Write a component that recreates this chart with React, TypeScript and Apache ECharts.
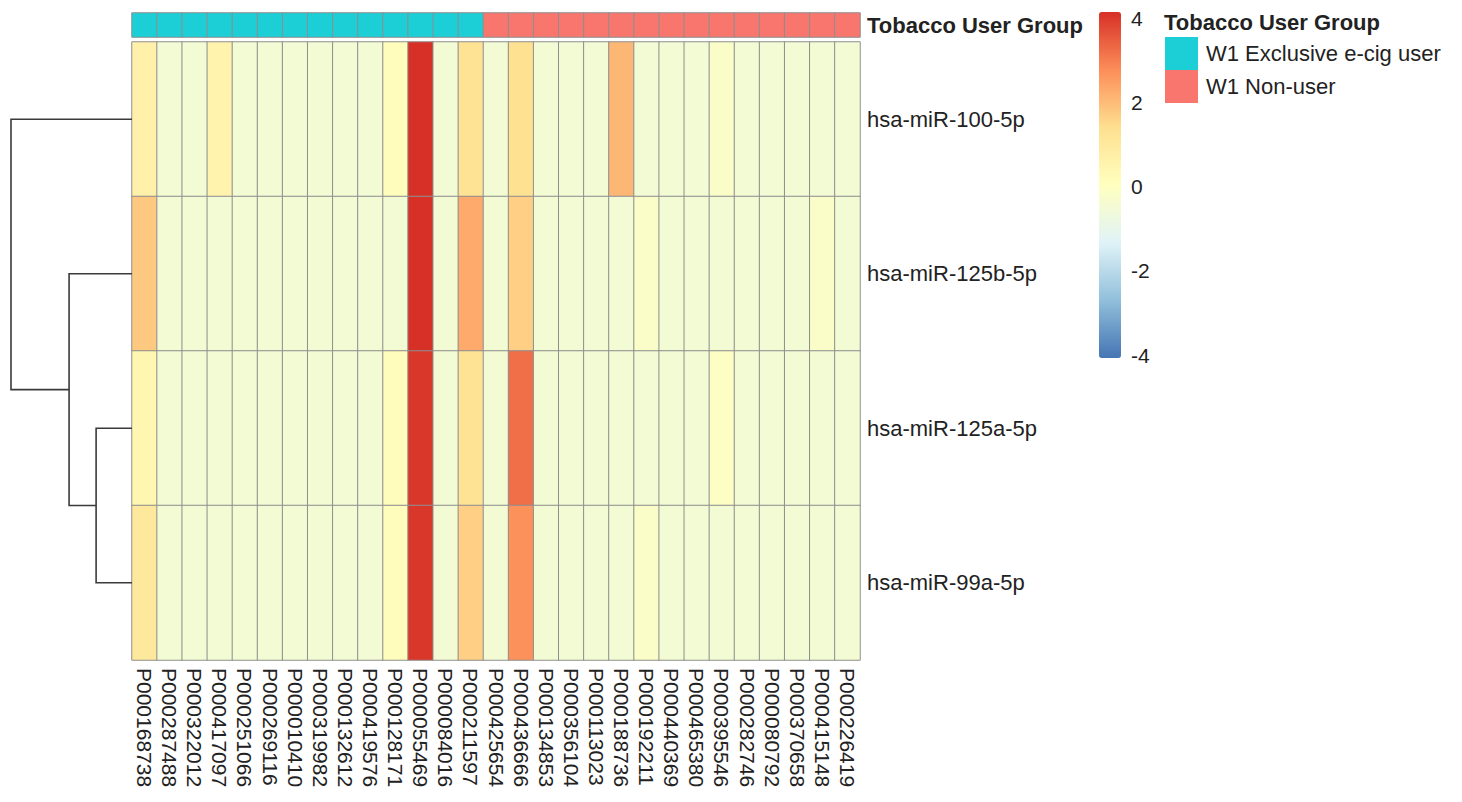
import React, { useEffect, useRef } from "react";
import * as echarts from "echarts";

// Samples (columns) in clustered display order
const samples = [
  "P000168738", "P000287488", "P000322012", "P000417097", "P000251066",
  "P000269116", "P000010410", "P000319982", "P000132612", "P000419576",
  "P000128171", "P000055469", "P000084016", "P000211597", "P000425654",
  "P000436666", "P000134853", "P000356104", "P000113023", "P000188736",
  "P000192211", "P000440369", "P000465380", "P000395546", "P000282746",
  "P000080792", "P000370658", "P000415148", "P000226419",
];

// Group annotation per sample (index into groupNames)
const groupNames = ["W1 Exclusive e-cig user", "W1 Non-user"];
const groupColors = ["#1CCFD6", "#F8766D"];
const sampleGroup = [
  0, 0, 0, 0, 0, 0, 0, 0, 0, 0, 0, 0, 0, 0,
  1, 1, 1, 1, 1, 1, 1, 1, 1, 1, 1, 1, 1, 1, 1,
];

// miRNAs (rows), top to bottom
const genes = ["hsa-miR-100-5p", "hsa-miR-125b-5p", "hsa-miR-125a-5p", "hsa-miR-99a-5p"];

// Scaled expression values, one array per miRNA
const mir100 = [0.6, -0.5, -0.5, 0.5, -0.5, -0.5, -0.5, -0.5, -0.5, -0.5, 0.1, 4.0, -0.5, 1.2, -0.5, 1.3, -0.5, -0.5, -0.5, 2.0, -0.5, -0.5, -0.5, -0.2, -0.5, -0.5, -0.5, -0.5, -0.5];
const mir125b = [1.7, -0.5, -0.5, -0.5, -0.5, -0.5, -0.5, -0.5, -0.5, -0.5, -0.5, 4.0, -0.5, 2.2, -0.5, 1.6, -0.5, -0.5, -0.5, -0.5, -0.2, -0.5, -0.5, -0.5, -0.5, -0.5, -0.5, -0.2, -0.5];
const mir125a = [0.4, -0.5, -0.5, -0.5, -0.5, -0.5, -0.5, -0.5, -0.5, -0.5, 0.1, 3.9, -0.5, 1.2, -0.5, 3.1, -0.5, -0.5, -0.5, -0.5, -0.5, -0.5, -0.5, -0.1, -0.5, -0.5, -0.5, -0.5, -0.5];
const mir99a = [1.0, -0.5, -0.5, -0.5, -0.5, -0.5, -0.5, -0.5, -0.5, -0.5, 0.1, 3.9, -0.5, 1.6, -0.5, 2.6, -0.5, -0.5, -0.5, -0.5, -0.2, -0.5, -0.5, -0.5, -0.5, -0.5, -0.5, -0.5, -0.5];
const matrix = [mir100, mir125b, mir125a, mir99a];

// Row dendrogram (hclust-style merges: negative = leaf row, positive = earlier merge)
const mergePairs = [[-3, -4], [-2, 1], [-1, 2]];
const mergeHeights = [0.89, 1.56, 3.0];

// Colour scale
const scaleTicks = [-4, -2, 0, 2, 4];
const palette = ["#4575B4", "#91BFDB", "#E0F3F8", "#FFFFBF", "#FEE090", "#FC8D59", "#D73027"];

const FONT = "'Liberation Sans', Arial, Helvetica, sans-serif";
const TEXT = "#222222";

function dendrogramLinks() {
  const nodes: { y: number; h: number }[] = [];
  const node = (ref: number) => (ref < 0 ? { y: -ref - 1 + 0.5, h: 0 } : nodes[ref - 1]);
  const links: { coords: number[][] }[] = [];
  mergePairs.forEach(([a, b], i) => {
    const L = node(a);
    const R = node(b);
    const H = mergeHeights[i];
    links.push({ coords: [[L.h, L.y], [H, L.y], [H, R.y], [R.h, R.y]] });
    nodes.push({ y: (L.y + R.y) / 2, h: H });
  });
  return links;
}

export default function App() {
  const ref = useRef<HTMLDivElement>(null);

  useEffect(() => {
    if (!ref.current) return;
    const chart = echarts.init(ref.current, undefined, { renderer: "svg" });

    const cells: number[][] = [];
    matrix.forEach((row, r) => row.forEach((v, c) => cells.push([c, r, v])));
    const annot = sampleGroup.map((g, c) => [c, 0, g]);

    const plotLeft = 132;
    const plotWidth = 728;

    chart.setOption({
      animation: false,
      textStyle: { fontFamily: FONT },
      title: {
        text: "Tobacco User Group",
        left: 1164,
        top: 11,
        padding: 0,
        textStyle: { fontFamily: FONT, fontSize: 22, fontWeight: "bold", color: TEXT },
      },
      grid: [
        { left: plotLeft, top: 42, width: plotWidth, height: 618 },
        { left: plotLeft, top: 13, width: plotWidth, height: 24 },
        { left: 11, top: 42, width: plotLeft - 11, height: 618 },
        { left: 1099, top: 18, width: 22, height: 337 },
      ],
      xAxis: [
        {
          gridIndex: 0,
          type: "category",
          data: samples,
          position: "bottom",
          axisLine: { show: false },
          axisTick: { show: false },
          axisLabel: {
            interval: 0,
            rotate: -90,
            margin: 8,
            fontSize: 21,
            color: TEXT,
            fontFamily: FONT,
          },
        },
        { gridIndex: 1, type: "category", data: samples, show: false },
        { gridIndex: 2, type: "value", min: 0, max: mergeHeights[mergeHeights.length - 1], inverse: true, show: false },
        { gridIndex: 3, type: "value", show: false },
      ],
      yAxis: [
        {
          gridIndex: 0,
          type: "category",
          data: genes,
          inverse: true,
          position: "right",
          axisLine: { show: false },
          axisTick: { show: false },
          axisLabel: { margin: 7, fontSize: 22, color: TEXT, fontFamily: FONT },
        },
        {
          gridIndex: 1,
          type: "category",
          data: ["Tobacco User Group"],
          position: "right",
          axisLine: { show: false },
          axisTick: { show: false },
          axisLabel: { margin: 7, fontSize: 22, fontWeight: "bold", color: TEXT, fontFamily: FONT },
        },
        { gridIndex: 2, type: "value", min: 0, max: genes.length, inverse: true, show: false },
        {
          gridIndex: 3,
          type: "value",
          min: scaleTicks[0],
          max: scaleTicks[scaleTicks.length - 1],
          interval: 2,
          position: "right",
          axisLine: { show: false },
          axisTick: { show: false },
          splitLine: { show: false },
          axisLabel: { margin: 10, fontSize: 21, color: TEXT, fontFamily: FONT },
        },
      ],
      visualMap: [
        {
          type: "continuous",
          seriesIndex: 0,
          min: scaleTicks[0],
          max: scaleTicks[scaleTicks.length - 1],
          calculable: false,
          hoverLink: false,
          left: 1099,
          top: 12,
          padding: 0,
          itemWidth: 22,
          itemHeight: 346,
          showLabel: false,
          inRange: { color: palette },
        },
        {
          type: "piecewise",
          seriesIndex: 1,
          dimension: 2,
          left: 1165,
          top: 37,
          padding: 0,
          orient: "vertical",
          align: "left",
          inverse: true,
          itemWidth: 33,
          itemHeight: 33,
          itemGap: 0,
          itemSymbol: "rect",
          textGap: 8,
          selectedMode: false,
          pieces: groupNames.map((name, i) => ({ value: i, label: name, color: groupColors[i] })),
          textStyle: { fontSize: 22, color: TEXT, fontFamily: FONT },
        },
      ],
      series: [
        {
          type: "heatmap",
          xAxisIndex: 0,
          yAxisIndex: 0,
          data: cells,
          itemStyle: { borderColor: "#8e8e8e", borderWidth: 1 },
          emphasis: { disabled: true },
        },
        {
          type: "heatmap",
          xAxisIndex: 1,
          yAxisIndex: 1,
          data: annot,
          itemStyle: { borderColor: "#8e8e8e", borderWidth: 1 },
          emphasis: { disabled: true },
        },
        {
          type: "lines",
          coordinateSystem: "cartesian2d",
          xAxisIndex: 2,
          yAxisIndex: 2,
          polyline: true,
          silent: true,
          lineStyle: { color: "#3a3a3a", width: 1.6, opacity: 1 },
          data: dendrogramLinks(),
        },
      ],
    });

    return () => chart.dispose();
  }, []);

  return (
    <div
      ref={ref}
      style={{ position: "fixed", left: 0, top: 0, width: 1462, height: 802, background: "#ffffff" }}
    />
  );
}
